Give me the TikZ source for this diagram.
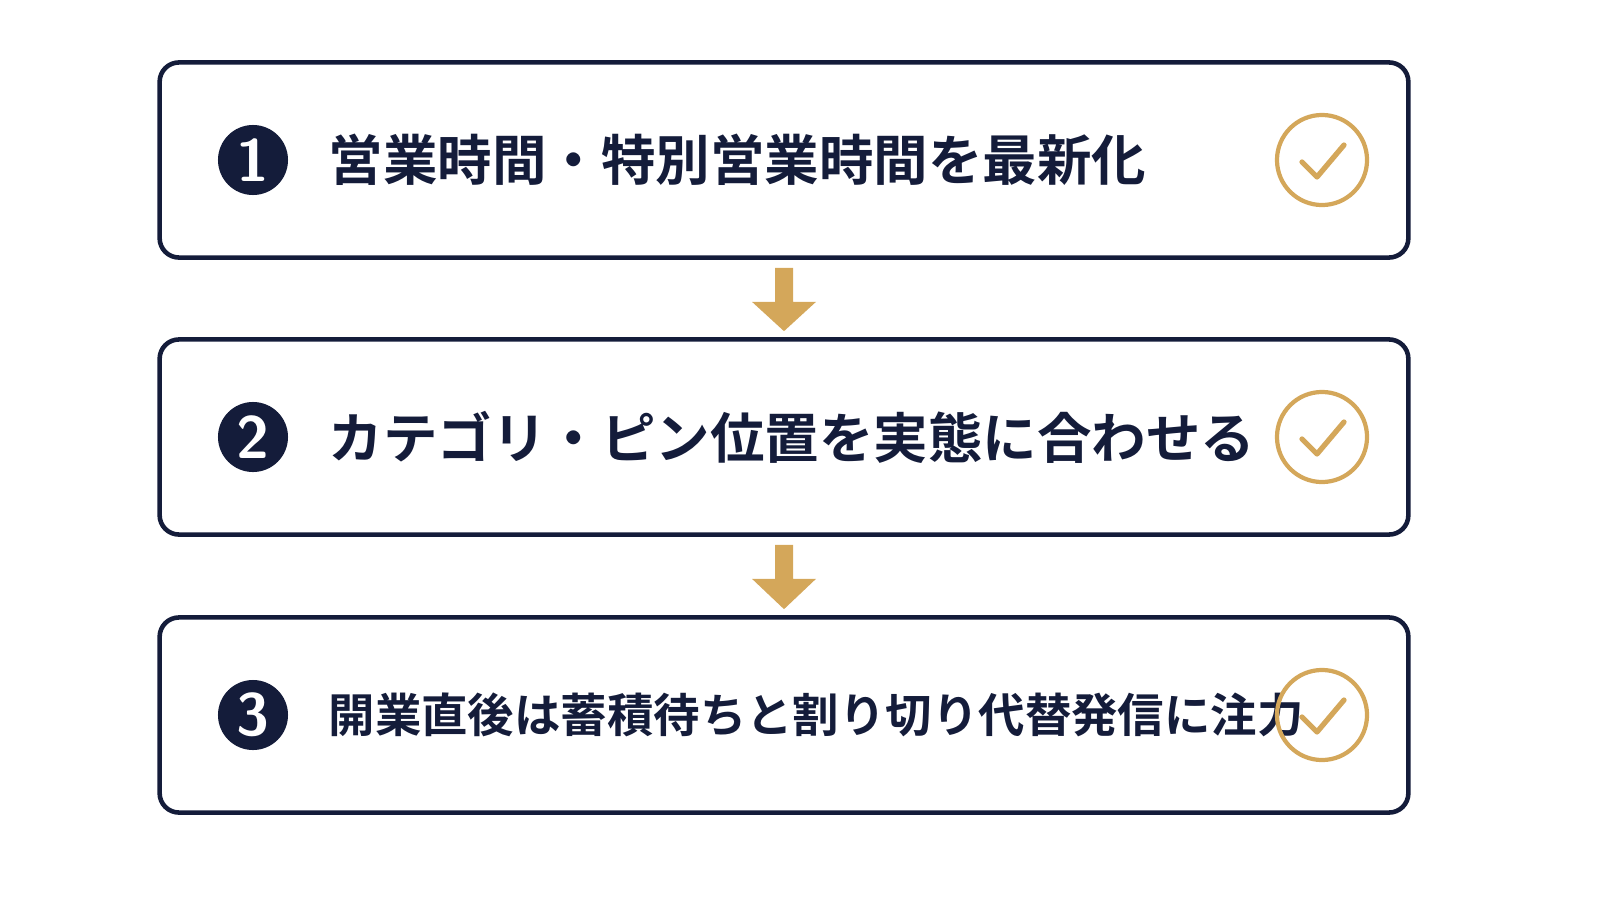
\documentclass[tikz,border=0pt]{standalone}
\usepackage{fontspec}
\newfontfamily\cjk{Noto Sans CJK JP Bold}
\usetikzlibrary{positioning}
\definecolor{navy}{HTML}{141C3A}
\definecolor{gold}{HTML}{D4A75A}
\begin{document}
\begin{tikzpicture}[x=0.01cm,y=-0.01cm,
  stepbox/.style={draw=navy,line width=1.3pt,rounded corners=5.5pt,minimum width=12.48cm,minimum height=1.95cm},
  num/.style={circle,fill=navy,text=white,minimum size=0.7cm,inner sep=0pt,font=\sffamily\bfseries\fontsize{17}{17}\selectfont},
  txt/.style={anchor=west,text=navy,inner sep=0pt,font=\cjk\fontsize{15.5}{15.5}\selectfont},
  chk/.style={circle,draw=gold,line width=1.2pt,minimum size=0.9cm,inner sep=0pt},
  flow/.style={fill=gold}]
\useasboundingbox (0,0) rectangle (1600,900);
\node[stepbox] (s1) at (784,160) {};
\node[stepbox] (s2) at (784,437) {};
\node[stepbox] (s3) at (784,715) {};
\node[num] (n1) at (253,160) {1};
\node[num] (n2) at (253,437) {2};
\node[num] (n3) at (253,715) {3};
\node[txt] (t1) at (328,160) {営業時間・特別営業時間を最新化};
\node[txt] (t2) at (328,437) {カテゴリ・ピン位置を実態に合わせる};
\node[txt,font=\cjk\fontsize{13.2}{13.2}\selectfont] (t3) at (328,715) {開業直後は蓄積待ちと割り切り代替発信に注力};
\foreach \i/\y in {1/160,2/437,3/715}{
  \node[chk] (c\i) at (1322,\y) {};
  \draw[gold,line width=1.5pt,line cap=round,line join=round]
    ([shift={(-20,2)}]c\i.center) -- ([shift={(-5,17)}]c\i.center) -- ([shift={(22,-15)}]c\i.center);
}
% arrows between steps
\foreach \a/\b in {s1/s2,s2/s3}{
  \fill[flow] ([shift={(-9,8)}]\a.south) -- ([shift={(-9,42)}]\a.south) -- ([shift={(-32,42)}]\a.south)
    -- ([shift={(0,-6)}]\b.north) -- ([shift={(32,42)}]\a.south) -- ([shift={(9,42)}]\a.south)
    -- ([shift={(9,8)}]\a.south) -- cycle;
}
\end{tikzpicture}
\end{document}
